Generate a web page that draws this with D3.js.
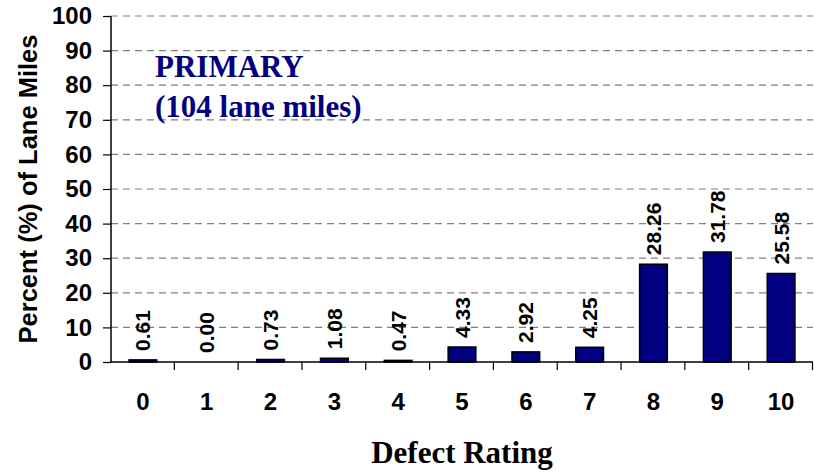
<!DOCTYPE html>
<html>
<head>
<meta charset="utf-8">
<script src="https://cdn.jsdelivr.net/npm/d3@7"></script>
<style>
    html, body { margin: 0; padding: 0; background: #ffffff; }
    svg { display: block; }
</style>
</head>
<body>
<div class="defectChart"></div>
<script>
    // data
    let ratings = ['0', '1', '2', '3', '4', '5', '6', '7', '8', '9', '10'];
    let percents = [0.61, 0.00, 0.73, 1.08, 0.47, 4.33, 2.92, 4.25, 28.26, 31.78, 25.58];
    let yTicks = [0, 10, 20, 30, 40, 50, 60, 70, 80, 90, 100];
    let noteLines = ['PRIMARY', '(104 lane miles)'];

    let width = 814, height = 472;
    let chartMargins = {top: 16, right: 1, bottom: 110, left: 111};
    let innerWidth = width - chartMargins.left - chartMargins.right,
        innerHeight = height - chartMargins.top - chartMargins.bottom;

    let svg = d3.select('.defectChart').append('svg')
        .attr('width', width)
        .attr('height', height);

    let chartLayer = svg.append('g')
        .attr('transform', 'translate(' + chartMargins.left + ', ' + chartMargins.top + ')');

    let x = d3.scaleBand()
        .domain(ratings)
        .range([0, innerWidth])
        .paddingInner(0.566)
        .paddingOuter(0.283);

    let y = d3.scaleLinear()
        .domain([0, 100])
        .range([innerHeight, 0]);

    // dashed grid lines
    chartLayer.append('g')
        .selectAll('line')
        .data(yTicks.filter(d => d > 0))
        .enter().append('line')
        .attr('x1', 0)
        .attr('x2', innerWidth)
        .attr('y1', d => y(d))
        .attr('y2', d => y(d))
        .attr('stroke', '#808080')
        .attr('stroke-width', 1.2)
        .attr('stroke-dasharray', '7,5');

    // y axis
    let yAxisGroup = chartLayer.append('g')
        .call(d3.axisLeft(y).tickValues(yTicks).tickSize(8).tickPadding(11));
    yAxisGroup.select('.domain')
        .attr('stroke', '#000')
        .attr('stroke-width', 1.5)
        .attr('d', 'M0,' + innerHeight + 'V0');
    yAxisGroup.selectAll('.tick line')
        .attr('stroke', '#000')
        .attr('stroke-width', 1.2);
    yAxisGroup.selectAll('text')
        .attr('fill', '#000')
        .style('font-family', 'Liberation Sans, Arial, sans-serif')
        .style('font-weight', 'bold')
        .style('font-size', '24px');

    // bars
    chartLayer.append('g')
        .selectAll('rect')
        .data(percents)
        .enter().append('rect')
        .attr('x', (d, i) => x(ratings[i]))
        .attr('y', d => y(d))
        .attr('width', x.bandwidth())
        .attr('height', d => innerHeight - y(d))
        .attr('fill', '#000080')
        .attr('stroke', '#000')
        .attr('stroke-width', 1.5);

    // value labels, rotated
    chartLayer.append('g')
        .selectAll('text')
        .data(percents)
        .enter().append('text')
        .attr('transform', (d, i) => 'translate(' + (x(ratings[i]) + x.bandwidth() / 2) + ',' + (y(d) - 9) + ') rotate(-90)')
        .attr('dy', '0.36em')
        .attr('text-anchor', 'start')
        .attr('fill', '#000')
        .style('font-family', 'Liberation Sans, Arial, sans-serif')
        .style('font-weight', 'bold')
        .style('font-size', '21px')
        .text(d => d.toFixed(2));

    // x axis: ticks sit between the categories
    let xAxisGroup = chartLayer.append('g')
        .attr('transform', 'translate(0,' + innerHeight + ')');
    xAxisGroup.append('line')
        .attr('x1', 0)
        .attr('x2', innerWidth)
        .attr('stroke', '#000')
        .attr('stroke-width', 1.5);
    xAxisGroup.selectAll('.sep')
        .data(ratings)
        .enter().append('line')
        .attr('class', 'sep')
        .attr('x1', (d, i) => x.step() * (i + 1) - 0.5)
        .attr('x2', (d, i) => x.step() * (i + 1) - 0.5)
        .attr('y1', 0)
        .attr('y2', 8)
        .attr('stroke', '#000')
        .attr('stroke-width', 1.2);
    xAxisGroup.selectAll('.lbl')
        .data(ratings)
        .enter().append('text')
        .attr('class', 'lbl')
        .attr('x', d => x(d) + x.bandwidth() / 2)
        .attr('y', 48)
        .attr('text-anchor', 'middle')
        .attr('fill', '#000')
        .style('font-family', 'Liberation Sans, Arial, sans-serif')
        .style('font-weight', 'bold')
        .style('font-size', '24px')
        .text(d => d);

    // axis titles
    svg.append('text')
        .attr('x', 462)
        .attr('y', 463)
        .attr('text-anchor', 'middle')
        .style('font-family', 'Liberation Serif, Times New Roman, serif')
        .style('font-weight', 'bold')
        .style('font-size', '31px')
        .text('Defect Rating');

    svg.append('text')
        .attr('transform', 'translate(37,' + 189 + ') rotate(-90)')
        .attr('text-anchor', 'middle')
        .style('font-family', 'Liberation Sans, Arial, sans-serif')
        .style('font-weight', 'bold')
        .style('font-size', '25.5px')
        .text('Percent (%) of Lane Miles');

    // note inside the plot
    svg.append('g')
        .selectAll('text')
        .data(noteLines)
        .enter().append('text')
        .attr('x', 155)
        .attr('y', (d, i) => 77 + i * 40)
        .attr('fill', '#000080')
        .style('font-family', 'Liberation Serif, Times New Roman, serif')
        .style('font-weight', 'bold')
        .style('font-size', '31px')
        .text(d => d);
</script>
</body>
</html>
